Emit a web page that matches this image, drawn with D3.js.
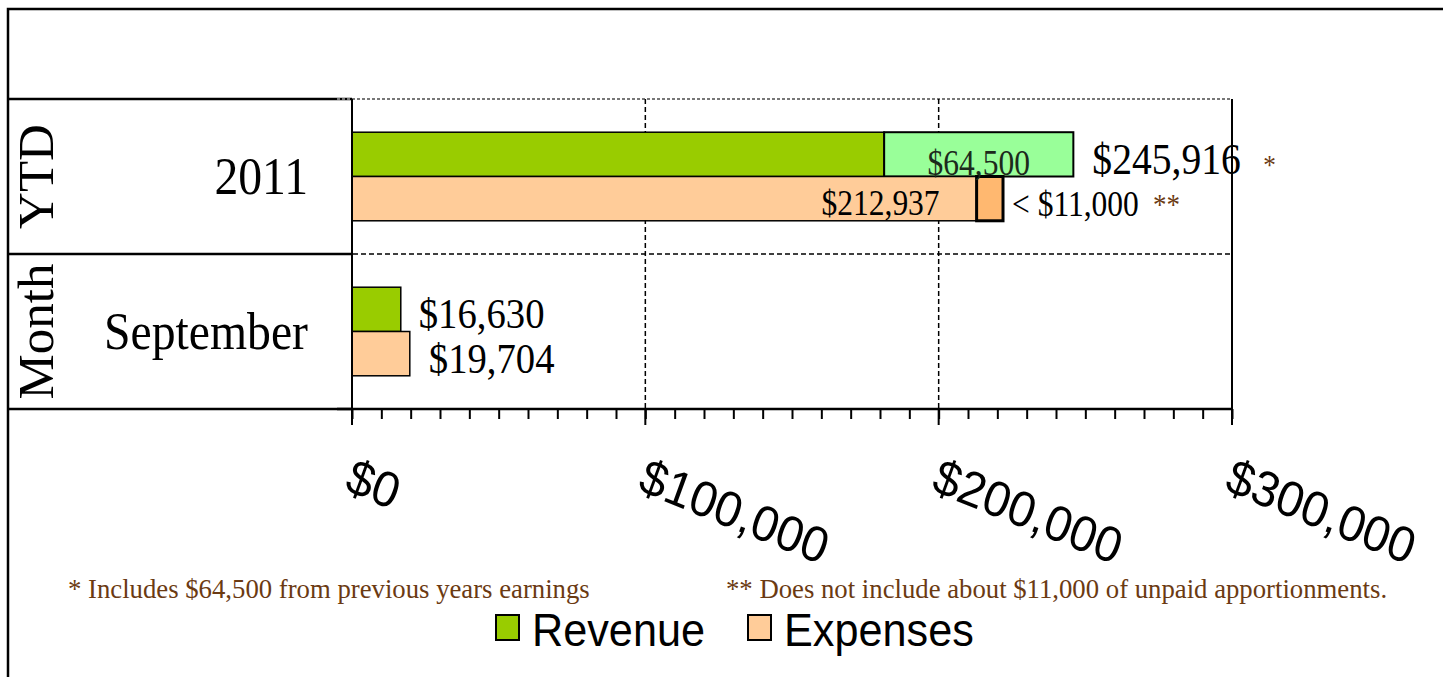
<!DOCTYPE html>
<html>
<head>
<meta charset="utf-8">
<script src="https://cdn.jsdelivr.net/npm/d3@7"></script>
<style>
  body { margin: 0; background: #fff; }
  svg { display: block; }
</style>
</head>
<body>
<div id="chart"></div>
<script>
// data
const categories = ["2011", "September"];
const periods = ["YTD", "Month"];
const seriesNames = ["Revenue", "Expenses"];
const revenueCurrent = [181416, 16630];
const revenuePrior = [64500, 0];
const expenses = [212937, 19704];
const unpaidEstimate = [9000, 0];
const unpaidLabels = ["< $11,000", ""];
const tickValues = [0, 100000, 200000, 300000];
const footnotes = [
  "* Includes $64,500 from previous years earnings",
  "** Does not include about $11,000 of unpaid apportionments."
];

const W = 1443, H = 677;
const SX = 0.9; // text in the original is a bit narrow
const serif = "'Liberation Serif', 'Times New Roman', serif";
const sans = "'Liberation Sans', Arial, sans-serif";
const brown = "#6b3a12";
const colors = { rev: "#99cc00", prior: "#99ff99", exp: "#ffcc99", unpaid: "#ffb870" };

const svg = d3.select("#chart").append("svg")
  .attr("width", W)
  .attr("height", H);

const x = d3.scaleLinear().domain([0, 300000]).range([352, 1232]);
const y0 = d3.scaleBand().domain(categories).range([99, 409]);
const y1 = d3.scaleBand().domain(seriesNames).range([0, y0.bandwidth()])
  .paddingInner(0).paddingOuter(0.75);

const fmt = v => "$" + d3.format(",")(v);

// narrow text helper
function txt(g, px, py, s, size, opts = {}) {
  const sx = opts.sx || SX;
  return g.append("text")
    .attr("transform", `translate(${px},${py}) scale(${sx},1)`)
    .attr("font-family", opts.family || serif)
    .attr("font-size", size)
    .attr("fill", opts.fill || "#000")
    .attr("text-anchor", opts.anchor || "start")
    .text(s);
}

// outer frame
svg.append("path")
  .attr("d", `M8,${H} V9 H${W}`)
  .attr("fill", "none")
  .attr("stroke", "#000")
  .attr("stroke-width", 2.5);

// table rows on the left
const bounds = [99].concat(categories.map(c => y0(c) + y0.bandwidth()));
svg.selectAll("line.row")
  .data(bounds)
  .join("line")
  .attr("x1", 8).attr("x2", 352)
  .attr("y1", d => d).attr("y2", d => d)
  .attr("stroke", "#000").attr("stroke-width", 2.5);

// plot top (grey dotted) and row divider (dashed)
svg.append("line")
  .attr("x1", 337).attr("x2", 1232).attr("y1", 99).attr("y2", 99)
  .attr("stroke", "#777").attr("stroke-width", 2).attr("stroke-dasharray", "3,2");
svg.append("line")
  .attr("x1", 337).attr("x2", 1232)
  .attr("y1", y0(categories[1])).attr("y2", y0(categories[1]))
  .attr("stroke", "#000").attr("stroke-width", 1.5).attr("stroke-dasharray", "5,3");

// vertical grid
svg.selectAll("line.grid")
  .data(tickValues.slice(1, -1))
  .join("line")
  .attr("x1", d => x(d)).attr("x2", d => x(d))
  .attr("y1", 99).attr("y2", 409)
  .attr("stroke", "#000").attr("stroke-width", 1.5).attr("stroke-dasharray", "5,3");

// right border
svg.append("line")
  .attr("x1", x(300000)).attr("x2", x(300000)).attr("y1", 99).attr("y2", 409)
  .attr("stroke", "#000").attr("stroke-width", 2);

// bars
const rows = categories.map((c, i) => ({ c, i }));
const barG = svg.append("g");
rows.forEach(({ c, i }) => {
  const yr = y0(c) + y1("Revenue");
  const ye = y0(c) + y1("Expenses");
  const h = y1.bandwidth();
  barG.append("rect")
    .attr("x", x(0)).attr("y", yr)
    .attr("width", x(revenueCurrent[i]) - x(0)).attr("height", h)
    .attr("fill", colors.rev).attr("stroke", "#000").attr("stroke-width", 1.5);
  if (revenuePrior[i] > 0) {
    barG.append("rect")
      .attr("x", x(revenueCurrent[i])).attr("y", yr)
      .attr("width", x(revenueCurrent[i] + revenuePrior[i]) - x(revenueCurrent[i])).attr("height", h)
      .attr("fill", colors.prior).attr("stroke", "#000").attr("stroke-width", 2);
  }
  barG.append("rect")
    .attr("x", x(0)).attr("y", ye)
    .attr("width", x(expenses[i]) - x(0)).attr("height", h)
    .attr("fill", colors.exp).attr("stroke", "#000").attr("stroke-width", 1.5);
  if (unpaidEstimate[i] > 0) {
    barG.append("rect")
      .attr("x", x(expenses[i])).attr("y", ye)
      .attr("width", x(expenses[i] + unpaidEstimate[i]) - x(expenses[i])).attr("height", h)
      .attr("fill", colors.unpaid).attr("stroke", "#000").attr("stroke-width", 3);
  }

  // value labels
  const revTotal = revenueCurrent[i] + revenuePrior[i];
  if (revenuePrior[i] > 0) {
    txt(barG, (x(revenueCurrent[i]) + x(revTotal)) / 2, yr + h - 2, fmt(revenuePrior[i]), 35, { anchor: "middle", fill: "#1c2a1c" });
    txt(barG, x(revTotal) + 19, yr + h - 3, fmt(revTotal), 44);
    txt(barG, x(revTotal) + 190, yr + h - 3, "*", 28, { fill: brown });
  } else {
    txt(barG, x(revTotal) + 18, yr + h - 4, fmt(revTotal), 43);
  }
  if (unpaidEstimate[i] > 0) {
    txt(barG, x(expenses[i]) - 37, ye + h - 6, fmt(expenses[i]), 35, { anchor: "end" });
    const ux = x(expenses[i] + unpaidEstimate[i]) + 9;
    txt(barG, ux, ye + h - 5, unpaidLabels[i], 35);
    txt(barG, ux + 141, ye + h - 7, "**", 30, { fill: brown });
  } else {
    txt(barG, x(expenses[i]) + 19, ye + h - 3, fmt(expenses[i]), 43);
  }
});

// y axis line
svg.append("line")
  .attr("x1", 352).attr("x2", 352).attr("y1", 99).attr("y2", 425)
  .attr("stroke", "#000").attr("stroke-width", 2);

// x axis: minor and major ticks
const axisG = svg.append("g").attr("transform", "translate(0,409)");
axisG.call(d3.axisBottom(x).tickValues(d3.range(0, 300001, 10000)).tickSize(10).tickFormat(""))
  .call(g => g.select(".domain").remove());
axisG.selectAll(".tick line").attr("stroke", "#000").attr("stroke-width", 2);
svg.append("line")
  .attr("x1", 337).attr("x2", 1232).attr("y1", 409).attr("y2", 409)
  .attr("stroke", "#000").attr("stroke-width", 2.5);
svg.selectAll("line.major")
  .data(tickValues)
  .join("line")
  .attr("x1", d => x(d)).attr("x2", d => x(d))
  .attr("y1", 409).attr("y2", 425)
  .attr("stroke", "#000").attr("stroke-width", 2);

// tick labels, slanted
svg.selectAll("text.tick")
  .data(tickValues)
  .join("text")
  .attr("transform", d => `translate(${x(d) - 9},490) scale(0.95,1) rotate(21)`)
  .attr("font-family", sans)
  .attr("font-size", 50)
  .text(d => fmt(d));

// category labels
categories.forEach((c, i) => {
  const cy = y0(c) + y0.bandwidth() / 2;
  txt(svg, 308, cy + 17, c, 53, { anchor: "end" });
  svg.append("text")
    .attr("transform", `translate(53,${cy}) rotate(-90)`)
    .attr("font-family", serif)
    .attr("font-size", 51)
    .attr("text-anchor", "middle")
    .text(periods[i]);
});

// footnotes
txt(svg, 68, 598, footnotes[0], 27, { fill: brown, sx: 0.99 });
txt(svg, 726, 598, footnotes[1], 27, { fill: brown, sx: 0.99 });

// legend
const legendX = [496, 748];
const legendColors = [colors.rev, colors.exp];
seriesNames.forEach((s, i) => {
  svg.append("rect")
    .attr("x", legendX[i]).attr("y", 615)
    .attr("width", 23).attr("height", 25)
    .attr("fill", legendColors[i]).attr("stroke", "#000").attr("stroke-width", 2);
  txt(svg, legendX[i] + 36, 646, s, 47, { family: sans, sx: 0.92 });
});
</script>
</body>
</html>
